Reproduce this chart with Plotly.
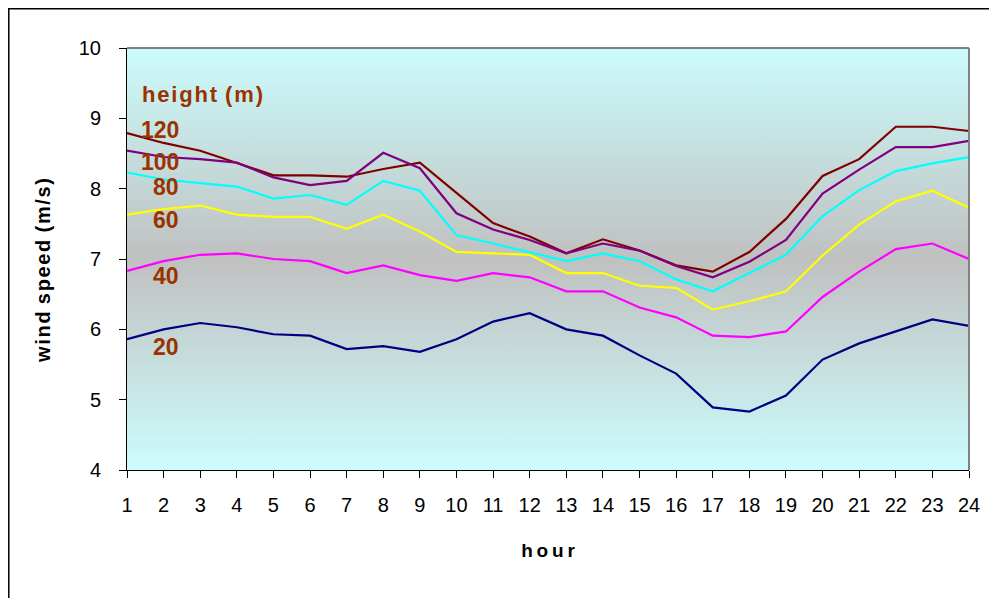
import plotly.graph_objects as go

# Hour of day
hours = list(range(1, 25))

# Wind speed (m/s) at each measuring height
speed_120 = [8.79, 8.65, 8.54, 8.36, 8.19, 8.19, 8.17, 8.28, 8.37, 7.94, 7.51, 7.32,
             7.08, 7.28, 7.12, 6.91, 6.82, 7.10, 7.57, 8.18, 8.42, 8.88, 8.88, 8.82]
speed_100 = [8.54, 8.45, 8.42, 8.37, 8.16, 8.05, 8.11, 8.51, 8.29, 7.65, 7.42, 7.27,
             7.08, 7.22, 7.12, 6.90, 6.74, 6.96, 7.27, 7.93, 8.27, 8.59, 8.59, 8.68]
speed_80 = [8.23, 8.13, 8.08, 8.03, 7.86, 7.91, 7.77, 8.11, 7.97, 7.34, 7.22, 7.10,
            6.97, 7.08, 6.97, 6.71, 6.54, 6.80, 7.06, 7.61, 7.98, 8.25, 8.36, 8.45]
speed_60 = [7.63, 7.71, 7.76, 7.63, 7.60, 7.60, 7.43, 7.63, 7.39, 7.10, 7.08, 7.06,
            6.80, 6.80, 6.62, 6.59, 6.28, 6.40, 6.54, 7.05, 7.49, 7.82, 7.97, 7.73]
speed_40 = [6.83, 6.97, 7.06, 7.08, 7.00, 6.97, 6.80, 6.91, 6.77, 6.69, 6.80, 6.74,
            6.54, 6.54, 6.31, 6.17, 5.91, 5.89, 5.97, 6.46, 6.82, 7.14, 7.22, 7.00]
speed_20 = [5.86, 6.00, 6.09, 6.03, 5.93, 5.91, 5.72, 5.76, 5.68, 5.86, 6.11, 6.23,
            6.00, 5.91, 5.63, 5.37, 4.89, 4.83, 5.06, 5.57, 5.80, 5.97, 6.14, 6.05]

heights = ["120", "100", "80", "60", "40", "20"]
series = [speed_120, speed_100, speed_80, speed_60, speed_40, speed_20]
colors = ["#800000", "#800080", "#00FFFF", "#FFFF00", "#FF00FF", "#000080"]

y_min, y_max = 4, 10
label_brown = "#993300"
font_family = "Liberation Sans, Arial, sans-serif"


def spaced(text, gap="\u200a"):
    # mimic the letter spacing of the original labels
    words = [gap.join(w) for w in text.split(" ")]
    return (" " + gap).join(words)


fig = go.Figure()

# gradient background of the plot area (cyan - gray - cyan)
fig.add_trace(go.Scatter(
    x=[hours[0], hours[-1], hours[-1], hours[0], hours[0]],
    y=[y_min, y_min, y_max, y_max, y_min],
    mode="none", fill="toself",
    fillgradient=dict(type="vertical",
                      colorscale=[[0, "#CCFCFC"], [0.5, "#C0C0C0"], [1, "#CCFCFC"]]),
    hoverinfo="skip", showlegend=False,
))

for name, vals, col in zip(heights, series, colors):
    fig.add_trace(go.Scatter(
        x=hours, y=vals, mode="lines", name=name,
        line=dict(color=col, width=2.2), showlegend=False,
    ))

# height labels placed as in the original chart
label_pos = {"120": 0.806, "100": 0.730, "80": 0.671, "60": 0.592, "40": 0.460, "20": 0.291}
for name in heights:
    fig.add_annotation(
        x=0.064, y=label_pos[name], xref="paper", yref="paper",
        xanchor="right", yanchor="middle", showarrow=False,
        text="<b>%s</b>" % name,
        font=dict(family=font_family, size=23, color=label_brown),
    )
fig.add_annotation(
    x=0.0154, y=0.889, xref="paper", yref="paper",
    xanchor="left", yanchor="middle", showarrow=False,
    text="<b>%s</b>" % spaced("height (m)"),
    font=dict(family=font_family, size=22, color=label_brown),
)

# y-axis title (sits a bit below the centre in the original)
fig.add_annotation(
    x=-0.0998, y=0.474, xref="paper", yref="paper",
    xanchor="center", yanchor="middle", showarrow=False, textangle=-90,
    text="<b>%s</b>" % spaced("wind speed (m/s)"),
    font=dict(family=font_family, size=20, color="black"),
)

# frame around the whole chart (open at right and bottom, as in the original)
fig.add_shape(type="rect", xref="paper", yref="paper",
              x0=-0.1404, y0=-0.45, x1=1.05, y1=1.093,
              line=dict(color="black", width=1.5), layer="above")
# gray right/top edge of the plot area
fig.add_shape(type="line", xref="paper", yref="paper", x0=1, y0=0, x1=1, y1=1,
              line=dict(color="#808080", width=2), layer="above")
fig.add_shape(type="line", xref="paper", yref="paper", x0=0, y0=1, x1=1, y1=1,
              line=dict(color="#808080", width=2), layer="above")

# page body has an 8px margin, so the figure is shifted by it
fig.update_layout(
    width=989, height=590,
    margin=dict(l=119, r=28, t=40, b=128),
    paper_bgcolor="white", plot_bgcolor="white",
    font=dict(family=font_family, color="black"),
    xaxis=dict(
        range=[1, 24], tickmode="array", tickvals=hours,
        ticks="outside", ticklen=7, tickcolor="black",
        showline=True, linecolor="black", linewidth=1,
        showgrid=False, zeroline=False,
        tickfont=dict(size=20), ticklabelstandoff=10,
        title=dict(text="<b>%s</b>" % spaced("hour", "\u2009"),
                   font=dict(size=19), standoff=28),
    ),
    yaxis=dict(
        range=[y_min, y_max], dtick=1,
        ticks="outside", ticklen=7, tickcolor="black",
        showline=True, linecolor="black", linewidth=1,
        showgrid=True, gridcolor="#222222", gridwidth=1, zeroline=False,
        tickfont=dict(size=20), ticklabelstandoff=14,
    ),
)

fig.write_html("out.html")
